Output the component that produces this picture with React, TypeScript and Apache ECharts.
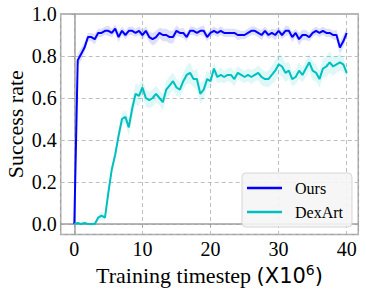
import React, { useEffect, useRef } from "react";
import * as echarts from "echarts";

// Mean success rates sampled every 0.5 (x10^6) timesteps, from 0 to 40
const X_STEP = 0.5;
const oursMean = [
  0, 0.78, 0.81, 0.84, 0.89, 0.89, 0.88, 0.91, 0.91, 0.92,
  0.92, 0.91, 0.93, 0.89, 0.92, 0.90, 0.92, 0.92, 0.91, 0.92,
  0.90, 0.92, 0.89, 0.88, 0.89, 0.91, 0.90, 0.90, 0.89, 0.89,
  0.92, 0.91, 0.91, 0.89, 0.92, 0.92, 0.91, 0.92, 0.92, 0.89,
  0.91, 0.92, 0.91, 0.92, 0.91, 0.91, 0.91, 0.91, 0.90, 0.90,
  0.90, 0.91, 0.92, 0.92, 0.91, 0.90, 0.92, 0.90, 0.91, 0.90,
  0.92, 0.90, 0.92, 0.92, 0.89, 0.91, 0.88, 0.90, 0.90, 0.89,
  0.91, 0.92, 0.91, 0.92, 0.91, 0.91, 0.90, 0.90, 0.84, 0.87,
  0.91,
];
const oursSpread = [
  0, 0.03, 0.03, 0.025, 0.02, 0.02, 0.025, 0.02, 0.02, 0.02,
  0.025, 0.02, 0.02, 0.025, 0.02, 0.02, 0.02, 0.02, 0.02, 0.02,
  0.025, 0.02, 0.025, 0.03, 0.03, 0.025, 0.03, 0.03, 0.03, 0.03,
  0.025, 0.02, 0.025, 0.02, 0.02, 0.02, 0.02, 0.02, 0.025, 0.02,
  0.02, 0.02, 0.02, 0.02, 0.02, 0.02, 0.02, 0.02, 0.025, 0.02,
  0.02, 0.02, 0.02, 0.02, 0.02, 0.025, 0.02, 0.02, 0.02, 0.025,
  0.02, 0.02, 0.025, 0.02, 0.025, 0.02, 0.03, 0.025, 0.025, 0.02,
  0.02, 0.02, 0.02, 0.02, 0.02, 0.02, 0.02, 0.025, 0.03, 0.03,
  0.02,
];
const dexMean = [
  0, 0.005, 0, 0.005, 0, 0, 0, 0.03, 0.04, 0.03,
  0.15, 0.26, 0.33, 0.42, 0.50, 0.51, 0.46, 0.55, 0.62, 0.61,
  0.65, 0.60, 0.59, 0.60, 0.62, 0.60, 0.58, 0.64, 0.66, 0.68,
  0.65, 0.64, 0.68, 0.71, 0.72, 0.69, 0.69, 0.62, 0.64, 0.69,
  0.68, 0.74, 0.70, 0.71, 0.70, 0.71, 0.71, 0.69, 0.72, 0.71,
  0.70, 0.71, 0.70, 0.71, 0.72, 0.70, 0.69, 0.69, 0.71, 0.73,
  0.76, 0.75, 0.72, 0.73, 0.69, 0.70, 0.73, 0.71, 0.74, 0.77,
  0.73, 0.72, 0.69, 0.74, 0.75, 0.77, 0.75, 0.76, 0.77, 0.76,
  0.72,
];
const dexSpread = [
  0, 0.005, 0.005, 0.005, 0.005, 0.005, 0.005, 0.015, 0.02, 0.015,
  0.02, 0.02, 0.02, 0.025, 0.03, 0.03, 0.04, 0.045, 0.05, 0.05,
  0.04, 0.04, 0.04, 0.04, 0.04, 0.035, 0.04, 0.04, 0.045, 0.04,
  0.04, 0.035, 0.04, 0.045, 0.05, 0.04, 0.05, 0.05, 0.045, 0.04,
  0.035, 0.03, 0.03, 0.035, 0.03, 0.03, 0.035, 0.035, 0.03, 0.03,
  0.03, 0.03, 0.035, 0.03, 0.035, 0.04, 0.035, 0.04, 0.045, 0.05,
  0.05, 0.05, 0.045, 0.04, 0.035, 0.035, 0.04, 0.035, 0.04, 0.04,
  0.045, 0.04, 0.04, 0.045, 0.05, 0.05, 0.045, 0.04, 0.04, 0.035,
  0.03,
];
const seriesNames = ["Ours", "DexArt"];
const xTickLabels = [0, 10, 20, 30, 40];
const yTickLabels = [0.0, 0.2, 0.4, 0.6, 0.8, 1.0];

const SERIF = "Liberation Serif";
const SANS = "DejaVu Sans";
const OURS_COLOR = "#0000ff";
const DEX_COLOR = "#00bfbf";
const GRID_COLOR = "#b8b8b8";
const FRAME_COLOR = "#a0a0a0";

const timesteps = oursMean.map((_, i) => i * X_STEP);

function bandSeries(mean: number[], spread: number[], fill: string) {
  const data = mean.map((m, i) => [timesteps[i], m - spread[i], m + spread[i]]);
  return {
    type: "custom",
    silent: true,
    clip: true,
    data,
    encode: { x: 0, y: [1, 2] },
    renderItem: (params: any, api: any) => {
      if (params.dataIndex !== 0) return null;
      const pts: number[][] = [];
      for (let i = 0; i < data.length; i++) pts.push(api.coord([data[i][0], data[i][2]]));
      for (let i = data.length - 1; i >= 0; i--) pts.push(api.coord([data[i][0], data[i][1]]));
      return { type: "polygon", shape: { points: pts }, style: { fill } };
    },
  };
}

export default function App() {
  const ref = useRef<HTMLDivElement>(null);
  useEffect(() => {
    if (!ref.current) return;
    const chart = echarts.init(ref.current, null, { renderer: "svg" });
    const near = (v: number, list: number[]) => list.some((t) => Math.abs(t - v) < 1e-6);
    chart.setOption({
      animation: false,
      backgroundColor: "#ffffff",
      textStyle: { fontFamily: SERIF },
      grid: {
        left: 60.7,
        right: 7.7,
        top: 14,
        bottom: 59.5,
        show: true,
        containLabel: false,
        outerBoundsMode: "none",
        borderColor: FRAME_COLOR,
        borderWidth: 1.5,
        backgroundColor: "transparent",
      },
      legend: {
        data: seriesNames,
        orient: "vertical",
        left: 242,
        top: 173,
        icon: "rect",
        itemWidth: 35,
        itemHeight: 2.5,
        itemGap: 8,
        padding: [7, 9, 7, 5],
        backgroundColor: "rgba(245,245,245,0.9)",
        borderColor: "#d6d6d6",
        borderWidth: 1,
        borderRadius: 4,
        textStyle: {
          fontFamily: SERIF,
          fontSize: 16,
          lineHeight: 16,
          color: "#000",
          padding: [0, 0, 0, 8],
        },
      },
      xAxis: {
        type: "value",
        min: -2,
        max: 41.7,
        splitNumber: 4,
        name: "{a|Training timestep }{b|(X10}{c|6}{b|)}",
        nameLocation: "middle",
        nameGap: 28,
        nameMoveOverlap: false,
        nameTextStyle: {
          rich: {
            a: { fontFamily: SERIF, fontSize: 22, color: "#000", lineHeight: 26 },
            b: { fontFamily: SANS, fontSize: 21, color: "#000", lineHeight: 26 },
            c: { fontFamily: SANS, fontSize: 14, color: "#000", lineHeight: 14, verticalAlign: "top" },
          },
        },
        axisLine: { show: true, lineStyle: { color: FRAME_COLOR, width: 1.5 } },
        axisTick: { show: true, inside: false, length: 3, lineStyle: { color: FRAME_COLOR, width: 1 } },
        axisLabel: {
          margin: 4,
          fontFamily: SERIF,
          fontSize: 20,
          color: "#000",
          formatter: (v: number) => (near(v, xTickLabels) ? String(Math.round(v)) : ""),
        },
        splitLine: { show: true, lineStyle: { color: GRID_COLOR, type: [4, 3], width: 0.9 } },
      },
      yAxis: {
        type: "value",
        min: -0.05,
        max: 1.0,
        splitNumber: 5,
        name: "Success rate",
        nameLocation: "middle",
        nameGap: 34,
        nameMoveOverlap: false,
        nameTextStyle: { fontFamily: SERIF, fontSize: 22, color: "#000" },
        axisLine: { show: true, lineStyle: { color: FRAME_COLOR, width: 1.5 } },
        axisTick: { show: true, inside: false, length: 3, lineStyle: { color: FRAME_COLOR, width: 1 } },
        axisLabel: {
          margin: 4,
          fontFamily: SERIF,
          fontSize: 20,
          color: "#000",
          formatter: (v: number) => (near(v, yTickLabels) ? v.toFixed(1) : ""),
        },
        splitLine: { show: true, lineStyle: { color: GRID_COLOR, type: [4, 3], width: 0.9 } },
      },
      series: [
        bandSeries(oursMean, oursSpread, "rgba(0,0,255,0.13)"),
        {
          name: seriesNames[0],
          type: "line",
          data: oursMean.map((v, i) => [timesteps[i], v]),
          showSymbol: false,
          symbol: "none",
          lineStyle: { color: OURS_COLOR, width: 2 },
          itemStyle: { color: OURS_COLOR },
        },
        bandSeries(dexMean, dexSpread, "rgba(0,191,191,0.13)"),
        {
          name: seriesNames[1],
          type: "line",
          data: dexMean.map((v, i) => [timesteps[i], v]),
          showSymbol: false,
          symbol: "none",
          lineStyle: { color: DEX_COLOR, width: 2 },
          itemStyle: { color: DEX_COLOR },
        },
      ],
    });
    return () => chart.dispose();
  }, []);
  return <div ref={ref} style={{ width: 366, height: 294, position: "absolute", left: 0, top: 0 }} />;
}
